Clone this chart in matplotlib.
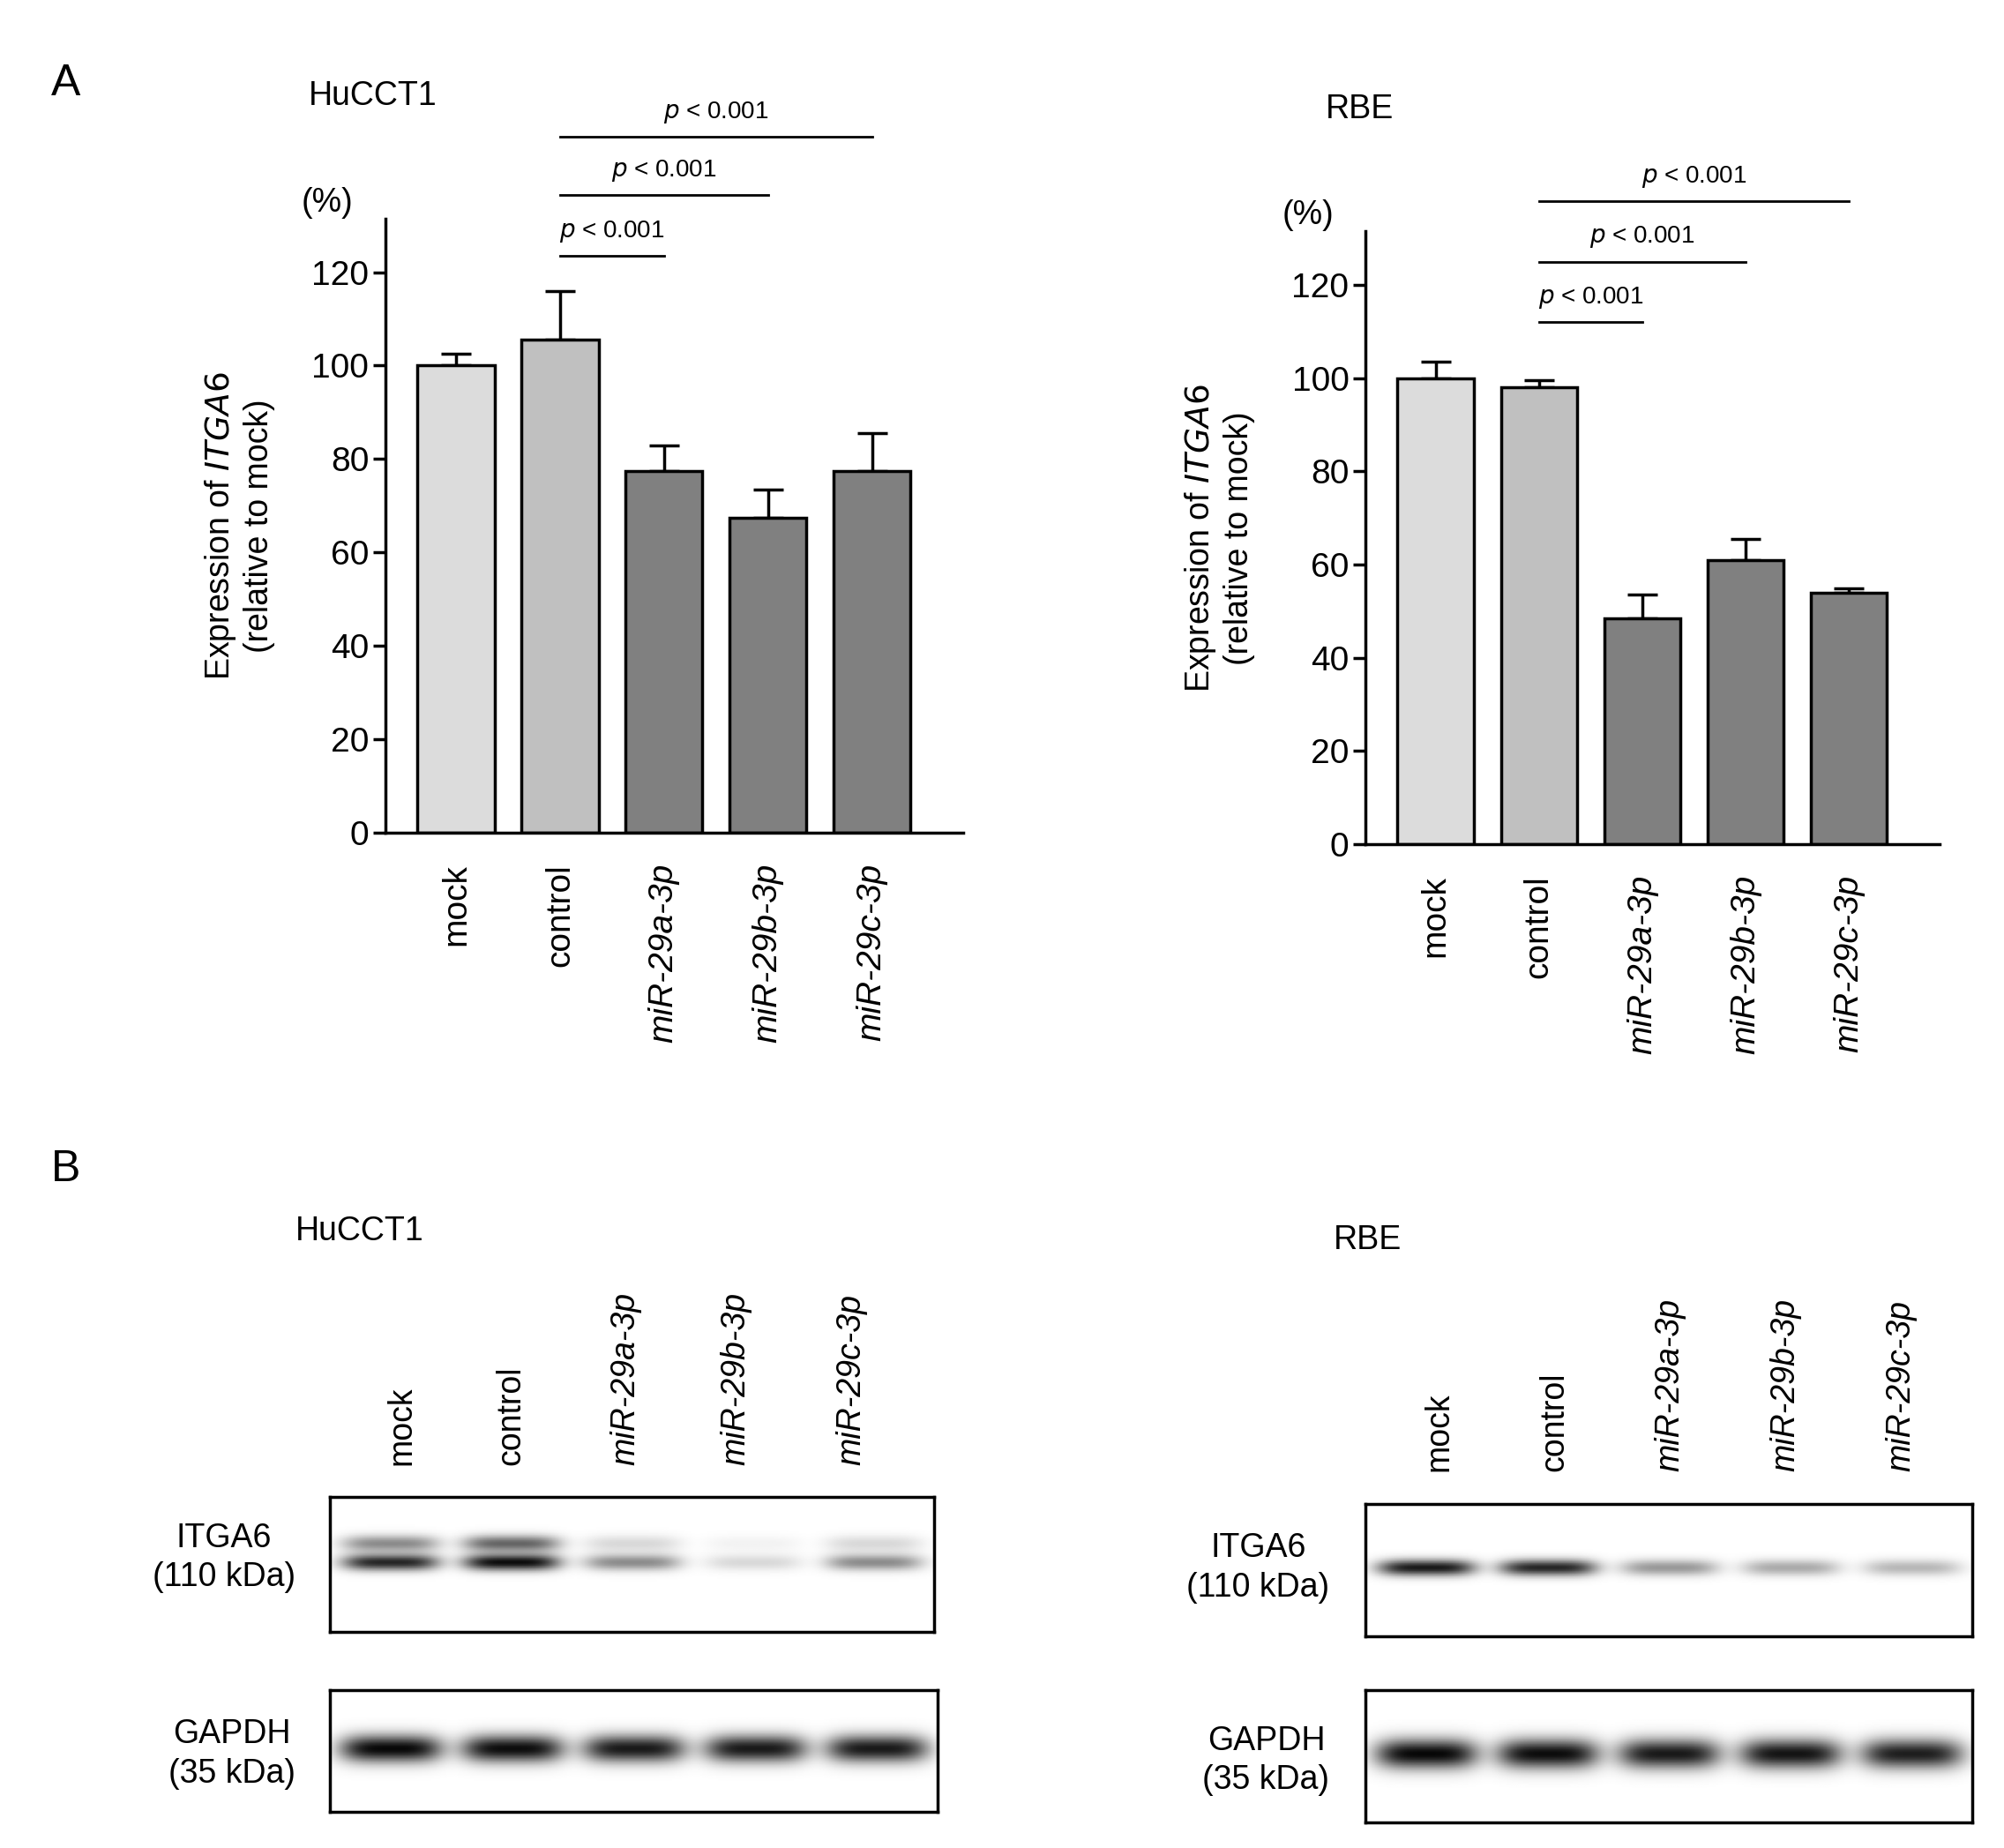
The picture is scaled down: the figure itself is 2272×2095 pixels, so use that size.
import numpy as np
import matplotlib.pyplot as plt

plt.rcParams['font.family'] = ['Liberation Sans', 'DejaVu Sans']

W, H = 1560, 1438  # reference layout units

groups = ['mock', 'control', 'miR-29a-3p', 'miR-29b-3p', 'miR-29c-3p']
huc_vals = [100, 105.5, 77.5, 67.5, 77.5]
huc_err = [2.5, 10.5, 5.5, 6, 8]
rbe_vals = [100, 98, 48.5, 61, 54]
rbe_err = [3.5, 1.5, 5, 4.5, 1]
huc_p = [(1, 2, 123.5), (1, 3, 136.5), (1, 4, 149)]
rbe_p = [(1, 2, 112), (1, 3, 125), (1, 4, 138)]
bar_colors = ['#dcdcdc', '#c0c0c0', '#808080', '#808080', '#808080']

# western blot band intensities (0..1)
huc_itga6 = [0.85, 0.95, 0.45, 0.15, 0.45]
huc_itga6_upper = [0.45, 0.6, 0.15, 0.05, 0.15]
huc_gapdh = [0.97, 0.95, 0.9, 0.9, 0.9]
rbe_itga6 = [0.9, 0.85, 0.4, 0.33, 0.28]
rbe_gapdh = [0.97, 0.95, 0.9, 0.92, 0.88]

fig = plt.figure(figsize=(22.72, 20.95), dpi=100, facecolor='white')


def box(x0, y0, x1, y1):
    return [x0 / W, 1 - y1 / H, (x1 - x0) / W, (y1 - y0) / H]


def bar_panel(rect, vals, errs, pvals, title, title_xy):
    ax = fig.add_axes(rect)
    x = np.arange(len(vals))
    ax.bar(x, vals, width=0.74, color=bar_colors, edgecolor='black', linewidth=2.5, zorder=2)
    ax.errorbar(x, vals, yerr=[np.zeros(len(errs)), errs], fmt='none', ecolor='black',
                elinewidth=2.5, capsize=12, capthick=2.5, zorder=1)
    ax.set_xlim(-0.68, 4.88)
    ax.set_ylim(0, 131.5)
    ax.set_yticks(range(0, 121, 20))
    ax.spines['top'].set_visible(False)
    ax.spines['right'].set_visible(False)
    for s in ['left', 'bottom']:
        ax.spines[s].set_linewidth(2.5)
    ax.tick_params(axis='both', labelsize=28, width=2.5, length=10)
    ax.tick_params(axis='x', length=0, pad=25)
    ax.set_xticks(x)
    labels = ax.set_xticklabels(groups, rotation=90)
    for lab in labels[2:]:
        lab.set_style('italic')
    ax.set_ylabel('Expression of $\\it{ITGA6}$\n(relative to mock)', fontsize=27, labelpad=30)
    ax.text(-0.1, 1.0, '(%)', transform=ax.transAxes, fontsize=27, ha='center', va='bottom')
    for a, b, y in pvals:
        ax.plot([a, b], [y, y], color='black', lw=2, clip_on=False)
        ax.text((a + b) / 2, y + 2.5, '$\\it{p}$ < 0.001', fontsize=20, ha='center', va='bottom')
    fig.text(title_xy[0] / W, 1 - title_xy[1] / H, title, fontsize=27, ha='left', va='center')
    return ax


bar_panel(box(300, 170, 750, 648), huc_vals, huc_err, huc_p, 'HuCCT1', (240, 75))
bar_panel(box(1063, 180, 1510, 657), rbe_vals, rbe_err, rbe_p, 'RBE', (1032, 85))

fig.text(40 / W, 1 - 65 / H, 'A', fontsize=36, ha='left', va='center')
fig.text(40 / W, 1 - 910 / H, 'B', fontsize=36, ha='left', va='center')


def blot(rect, upper, lower=None, thick=8.0, wide=40.0):
    ax = fig.add_axes(rect)
    nx, ny = 500, 100
    xs = np.arange(nx)[None, :]
    ys = np.arange(ny)[:, None]
    img = np.zeros((ny, nx))
    centers = np.linspace(50, 450, 5)
    for c, v in zip(centers, upper):
        img += v * np.exp(-((xs - c) / wide) ** 4) * np.exp(-((ys - 48) / thick) ** 2)
    if lower is not None:
        for c, v in zip(centers, lower):
            img += v * np.exp(-((xs - c) / wide) ** 4) * np.exp(-((ys - 34) / 6) ** 2)
    ax.imshow(1 - np.clip(img, 0, 1), cmap='gray', vmin=0, vmax=1, aspect='auto')
    ax.set_xticks([])
    ax.set_yticks([])
    for s in ax.spines.values():
        s.set_linewidth(2.5)
    return ax


blot(box(257, 1165, 727, 1270), huc_itga6, huc_itga6_upper, thick=6)
blot(box(257, 1315, 730, 1410), huc_gapdh, thick=11, wide=42)
blot(box(1063, 1170, 1535, 1273), rbe_itga6, thick=6)
blot(box(1063, 1315, 1535, 1418), rbe_gapdh, thick=11, wide=42)

lane_left = [313, 398, 487, 573, 663]
lane_right = [1120, 1210, 1300, 1390, 1480]
for lanes, ytop in [(lane_left, 1140), (lane_right, 1145)]:
    for xl, g in zip(lanes, groups):
        fig.text(xl / W, 1 - ytop / H, g, rotation=90, fontsize=27, ha='center', va='bottom',
                 style='italic' if g.startswith('miR') else 'normal')

fig.text(230 / W, 1 - 958 / H, 'HuCCT1', fontsize=27, ha='left', va='center')
fig.text(1038 / W, 1 - 965 / H, 'RBE', fontsize=27, ha='left', va='center')
for xr, yi, yg in [(230, 1212, 1365), (1035, 1220, 1370)]:
    fig.text(xr / W, 1 - yi / H, 'ITGA6\n(110 kDa)', fontsize=27, ha='right', va='center',
             multialignment='center', linespacing=1.3)
    fig.text(xr / W, 1 - yg / H, 'GAPDH\n(35 kDa)', fontsize=27, ha='right', va='center',
             multialignment='center', linespacing=1.3)

fig.savefig('out.png', dpi=100, facecolor='white')
